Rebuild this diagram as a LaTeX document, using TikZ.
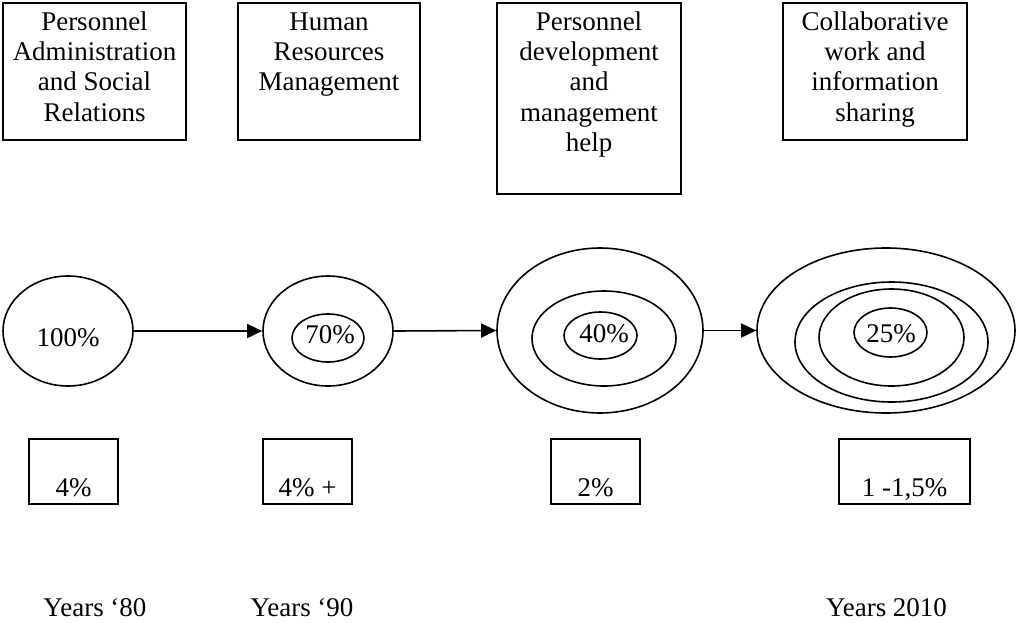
\documentclass[tikz,border=0pt]{standalone}
\usepackage{fontspec}
\setmainfont{Liberation Serif}
\usetikzlibrary{shapes.geometric,arrows.meta}
\begin{document}
\begin{tikzpicture}[x=1pt,y=-1pt,
  box/.style={draw,line width=2pt,rectangle,inner sep=0pt},
  ell/.style={draw,line width=1.6pt,ellipse,inner sep=0pt},
  txt/.style={font=\fontsize{27}{30.4}\selectfont,inner sep=0pt,align=center,anchor=base},
  arr/.style={line width=1.6pt,-{Triangle[length=15pt,width=14pt]}}]
\useasboundingbox (0,0) rectangle (1018,622);
% top boxes
\node[box,minimum width=183pt,minimum height=137pt] (b1) at (94.5,71.5) {};
\node[box,minimum width=182pt,minimum height=137pt] (b2) at (329,71.5) {};
\node[box,minimum width=184pt,minimum height=191pt] (b3) at (589,98.5) {};
\node[box,minimum width=184pt,minimum height=137pt] (b4) at (875,71.5) {};
\node[txt] (t1) at (94.5,121.2) {Personnel\\Administration\\and Social\\Relations};
\node[txt] (t2) at (329,90.8) {Human\\Resources\\Management};
\node[txt] (t3) at (589,151.6) {Personnel\\development\\and\\management\\help};
\node[txt] (t4) at (875,121.2) {Collaborative\\work and\\information\\sharing};
% ellipses
\node[ell,minimum width=130pt,minimum height=110pt] (e1) at (68,331) {};
\node[ell,minimum width=130pt,minimum height=110pt] (e2) at (328,331) {};
\node[ell,minimum width=72pt,minimum height=48pt] (e2a) at (328,338) {};
\node[ell,minimum width=206pt,minimum height=165pt] (e3) at (600,330.5) {};
\node[ell,minimum width=144pt,minimum height=95pt] (e3a) at (604,338.5) {};
\node[ell,minimum width=73pt,minimum height=47pt] (e3b) at (600.5,335.5) {};
\node[ell,minimum width=258pt,minimum height=165pt] (e4) at (886,330.5) {};
\node[ell,minimum width=193pt,minimum height=120pt] (e4a) at (891.5,342) {};
\node[ell,minimum width=145pt,minimum height=97pt] (e4b) at (891.5,337.5) {};
\node[ell,minimum width=73pt,minimum height=49pt] (e4c) at (890.5,332.5) {};
\node[txt] (p1) at (68,346) {100\%};
\node[txt] (p2) at (330,343) {70\%};
\node[txt] (p3) at (604,342) {40\%};
\node[txt] (p4) at (891,342) {25\%};
% arrows
\draw[arr] (e1.east) -- (e2.west);
\draw[arr] (e2.east) -- (e3.west);
\draw[arr] (e3.east) -- (e4.west);
% bottom boxes
\node[box,minimum width=89pt,minimum height=65pt] (s1) at (73.5,471.5) {};
\node[box,minimum width=89pt,minimum height=65pt] (s2) at (307.5,471.5) {};
\node[box,minimum width=89pt,minimum height=65pt] (s3) at (595.5,471.5) {};
\node[box,minimum width=131pt,minimum height=65pt] (s4) at (904.5,471.5) {};
\node[txt] (q1) at (73.5,496) {4\%};
\node[txt] (q2) at (307.5,496) {4\% +};
\node[txt] (q3) at (595.5,496) {2\%};
\node[txt] (q4) at (904.5,496) {1 -1,5\%};
% years
\node[txt] (y1) at (95,616) {Years ‘80};
\node[txt] (y2) at (302,616) {Years ‘90};
\node[txt] (y3) at (886.5,616) {Years 2010};
\end{tikzpicture}
\end{document}
